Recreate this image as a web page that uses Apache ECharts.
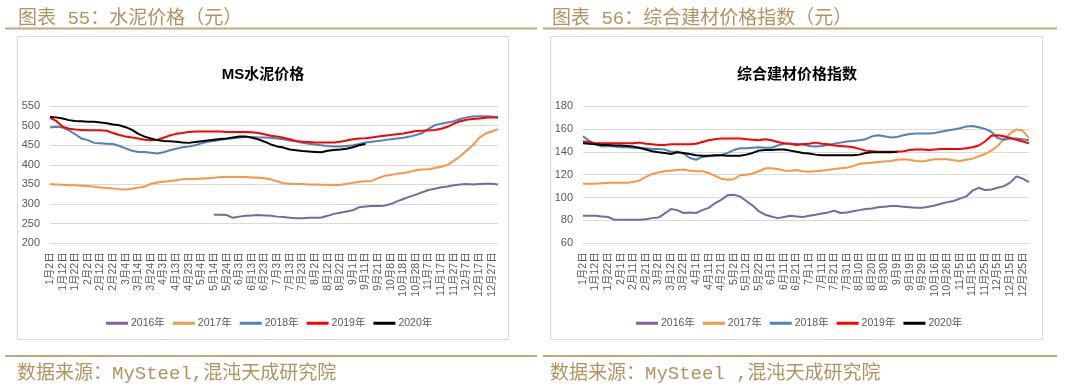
<!DOCTYPE html>
<html><head><meta charset="utf-8">
<script src="https://cdn.jsdelivr.net/npm/echarts@6/dist/echarts.min.js"></script>
<style>html,body{margin:0;padding:0;background:#fff;}#c{width:1080px;height:387px;}</style>
</head><body><div id="c"></div>
<script>
// ---------- Data ----------
const seriesNames = ['2016年','2017年','2018年','2019年','2020年'];

const cementDates = ['1月2日','1月7日','1月12日','1月17日','1月22日','1月27日','2月2日','2月7日','2月12日','2月17日','2月22日','2月27日','3月4日','3月9日','3月14日','3月19日','3月24日','3月29日','4月3日','4月8日','4月13日','4月18日','4月23日','4月28日','5月4日','5月9日','5月14日','5月19日','5月24日','5月29日','6月3日','6月8日','6月13日','6月18日','6月23日','6月28日','7月3日','7月8日','7月13日','7月18日','7月23日','7月28日','8月2日','8月7日','8月12日','8月17日','8月22日','8月27日','9月1日','9月6日','9月11日','9月16日','9月21日','9月28日','10月8日','10月13日','10月18日','10月23日','10月28日','11月2日','11月7日','11月12日','11月17日','11月22日','11月27日','12月2日','12月7日','12月12日','12月17日','12月22日','12月27日','12月31日'];

const cement2016 = [null,null,null,null,null,null,null,null,null,null,null,null,null,null,null,null,null,null,null,null,null,null,null,null,null,null,
  273,273,272,265,268,270,271,272,271,270,268,267,265,264,264,265,265,266,270,275,278,281,284,292,294,295,295,296,300,307,313,319,324,330,336,339,343,345,348,350,351,350,351,352,352,350];
const cement2017 = [351,350,349,348,348,347,346,344,342,341,340,338,337,339,342,344,352,355,357,359,361,363,364,364,365,366,367,369,369,369,369,369,368,367,366,363,358,353,352,351,351,350,350,349,349,348,349,351,354,357,358,359,366,372,374,377,379,382,386,388,389,392,395,400,410,422,436,450,468,480,485,491];
const cement2018 = [495,497,495,488,478,467,463,456,455,454,453,448,442,436,433,433,431,429,432,437,441,445,447,450,455,459,461,464,466,468,470,471,471,470,470,469,467,465,462,460,456,454,452,450,448,447,447,448,450,453,457,459,461,463,465,467,469,472,476,481,492,501,505,508,511,517,521,523,524,524,523,521];
const cement2019 = [520,512,497,492,490,489,488,488,488,487,481,476,472,470,467,464,463,464,469,475,479,481,484,485,485,485,485,485,484,484,484,484,483,481,478,474,472,469,465,461,459,458,457,457,457,457,459,462,465,467,468,470,472,474,476,478,480,483,486,487,488,489,492,497,505,511,515,517,518,520,521,521];
const cement2020 = [522,521,518,514,512,511,510,510,508,506,503,501,496,489,479,472,467,463,461,460,459,457,456,458,460,462,464,466,467,470,472,472,469,465,459,452,447,444,439,437,435,434,433,432,436,438,439,441,445,450,453];

const indexDates = ['1月2日','1月7日','1月12日','1月17日','1月22日','1月27日','2月1日','2月6日','2月11日','2月16日','2月21日','2月26日','3月2日','3月7日','3月12日','3月17日','3月22日','3月27日','4月1日','4月6日','4月11日','4月16日','4月21日','4月26日','5月2日','5月7日','5月12日','5月17日','5月22日','5月27日','6月1日','6月6日','6月11日','6月16日','6月21日','6月26日','7月1日','7月6日','7月11日','7月16日','7月21日','7月26日','7月31日','8月5日','8月10日','8月15日','8月20日','8月25日','8月30日','9月4日','9月9日','9月14日','9月19日','9月24日','9月29日','10月9日','10月16日','10月21日','10月26日','10月31日','11月5日','11月10日','11月15日','11月20日','11月25日','11月30日','12月5日','12月10日','12月15日','12月20日','12月25日','12月30日'];

const index2016 = [84,84,84,83.5,83,80.5,80.5,80.5,80.5,80.5,81,82,82.5,86,90,89,86.5,87,86.5,89,91,95,98,102,102.5,101,97,93,88,85,83.5,82,83,84,83.5,83,84,85,86,87,88.5,86.5,87,88,89,90,90.5,91.5,92,92.5,92.5,92,91.5,91,91,92,93,94.5,96,97,99,101,106,108.5,106.5,107,108.5,110,113,118.5,116.5,113.5];
const index2017 = [112,112,112,112.5,113,113,113,113,113.5,115,118,120.5,122,123,123.5,124,124.5,123.5,123,123,121.5,119,116.5,115.5,116,119.5,120,121,123,125.5,125.5,125,123.5,123.5,124,123,122.5,123,123.5,124,125,125.5,126,127.5,129.5,130,130.5,131,131.5,132,133,133.5,133,132,131.5,132.5,133.5,133.5,133.5,132.5,132,133,134,136,138,141,145,151,156,159.5,158.5,152];
const index2018 = [153.5,149.5,146.5,144.5,145,144.5,144,144,143.5,143,143,142.5,142.5,142,140,140,138.5,134.5,133,135.5,136,136.5,137,139,141.5,143,143,143.5,144,143.5,143.5,145.5,147,147,147,146.5,145,144.5,145,146,147,148,149,149.5,150,151,153.5,154.5,153.5,152.5,153,154.5,155.5,156,156,156,156.5,157.5,158.5,159.5,160.5,162,162.5,161.5,160,157.5,152,150.5,151.5,151.5,151,150];
const index2019 = [149,148.5,147.5,147.5,147.5,147.5,147.5,147.5,147.5,148,147,146.5,146,146,146.5,146.5,146.5,146.5,147,148.5,150,151,151.5,151.5,151.5,151.5,151,150.5,150,151,150,148.5,147.5,147,146,146.5,147,148,147,146.5,145.5,145,144.5,144,142.5,141,140.5,140,140,140,140,140.5,141.5,142,142,141.5,142,142.5,142.5,142.5,142.5,143,144,145.5,149,154,154.5,153.5,152,150.5,149,147.5];
const index2020 = [147.5,147,146.5,146,146,145.5,145.5,145,144.5,143.5,142,140.5,139.5,139,138,139.5,139,138,137,136.5,136.5,137,137,136.5,136.5,136.5,137.5,139,141,141.5,141.5,142,142,141,140,139,138.5,137.5,137,137,137,137,137,137,137.5,139,139.5,139.5,139.5,139.5,140];

const cementTicks = {min:200, max:550, interval:50};
const indexTicks = {min:60, max:180, interval:20};
// ---------- Styles ----------
const colors = ['#8064A2','#F79646','#4F81BD','#FF0000','#000000'];
const brown = '#B3925E';
const brownLine = '#C3A778';
const labelColor = '#595959';
const cjk = '"Liberation Sans","Noto Sans CJK SC",sans-serif';
const mono = '"Liberation Mono","Noto Sans CJK SC",monospace';

const chart = echarts.init(document.getElementById('c'), null, {renderer:'canvas'});

function xAx(gi, data){
  return {type:'category', gridIndex:gi, data:data, boundaryGap:false,
    axisLine:{show:true, lineStyle:{color:'#d9d9d9'}}, axisTick:{show:false},
    axisLabel:{interval:1, rotate:90, fontSize:10.5, color:labelColor, margin:9, fontFamily:cjk}};
}
function yAx(gi, t){
  return {type:'value', gridIndex:gi, min:t.min, max:t.max, interval:t.interval,
    axisLine:{show:false}, axisTick:{show:false},
    splitLine:{lineStyle:{color:'#d9d9d9', width:1}},
    axisLabel:{fontSize:11, color:labelColor, margin:10, fontFamily:cjk}};
}
function ser(name, data, gi, ci){
  return {name:name, type:'line', xAxisIndex:gi, yAxisIndex:gi, data:data, showSymbol:false, symbol:'none',
    lineStyle:{width:2, color:colors[ci]}, itemStyle:{color:colors[ci]}, connectNulls:false, animation:false, z: 2+ci};
}
const legendBase = {icon:'rect', itemWidth:22, itemHeight:3, itemGap:8, top:313,
  textStyle:{fontSize:10.5, color:labelColor, fontFamily:cjk, padding:[0,0,0,-2]}, data:seriesNames, selectedMode:false};

const cementSeries = [cement2016, cement2017, cement2018, cement2019, cement2020];
const indexSeries = [index2016, index2017, index2018, index2019, index2020];

const series = [];
seriesNames.forEach((n,i)=>series.push(ser(n, cementSeries[i], 0, i)));
seriesNames.forEach((n,i)=>series.push(ser(n, indexSeries[i], 1, i)));

chart.setOption({
  animation:false,
  backgroundColor:'#fff',
  grid:[
    {left:50, top:106, width:448, height:137.3, containLabel:false},
    {left:583, top:106, width:446, height:137.3, containLabel:false}
  ],
  xAxis:[xAx(0, cementDates), xAx(1, indexDates)],
  yAxis:[yAx(0, cementTicks), yAx(1, indexTicks)],
  legend:[Object.assign({left:101}, legendBase), Object.assign({left:631}, legendBase)],
  series:series,
  graphic:[
    {type:'rect', shape:{x:17.5, y:36.5, width:491, height:303}, style:{fill:'none', stroke:'#d9d9d9', lineWidth:1}, z:-1},
    {type:'rect', shape:{x:550.5, y:36.5, width:492, height:303}, style:{fill:'none', stroke:'#d9d9d9', lineWidth:1}, z:-1},
    {type:'line', shape:{x1:5, y1:28.5, x2:537, y2:28.5}, style:{stroke:brownLine, lineWidth:2}},
    {type:'line', shape:{x1:543, y1:28.5, x2:1057, y2:28.5}, style:{stroke:brownLine, lineWidth:2}},
    {type:'line', shape:{x1:5, y1:356, x2:537, y2:356}, style:{stroke:brownLine, lineWidth:2}},
    {type:'line', shape:{x1:543, y1:356, x2:1057, y2:356}, style:{stroke:brownLine, lineWidth:2}},
    {type:'text', left:18, top:9, style:{text:'图表 55：水泥价格（元）', fill:brown, fontSize:19, fontFamily:mono}},
    {type:'text', left:552, top:9, style:{text:'图表 56：综合建材价格指数（元）', fill:brown, fontSize:19, fontFamily:mono}},
    {type:'text', left:17, top:364, style:{text:'数据来源：MySteel,混沌天成研究院', fill:brown, fontSize:19, fontFamily:mono}},
    {type:'text', left:550, top:364, style:{text:'数据来源：MySteel ,混沌天成研究院', fill:brown, fontSize:19, fontFamily:mono}},
    {type:'text', x:263, y:75, style:{text:'MS水泥价格', fill:'#000', fontSize:15, fontWeight:'bold', fontFamily:cjk, align:'center', verticalAlign:'middle'}},
    {type:'text', x:797, y:75, style:{text:'综合建材价格指数', fill:'#000', fontSize:15, fontWeight:'bold', fontFamily:cjk, align:'center', verticalAlign:'middle'}}
  ]
});
</script></body></html>
